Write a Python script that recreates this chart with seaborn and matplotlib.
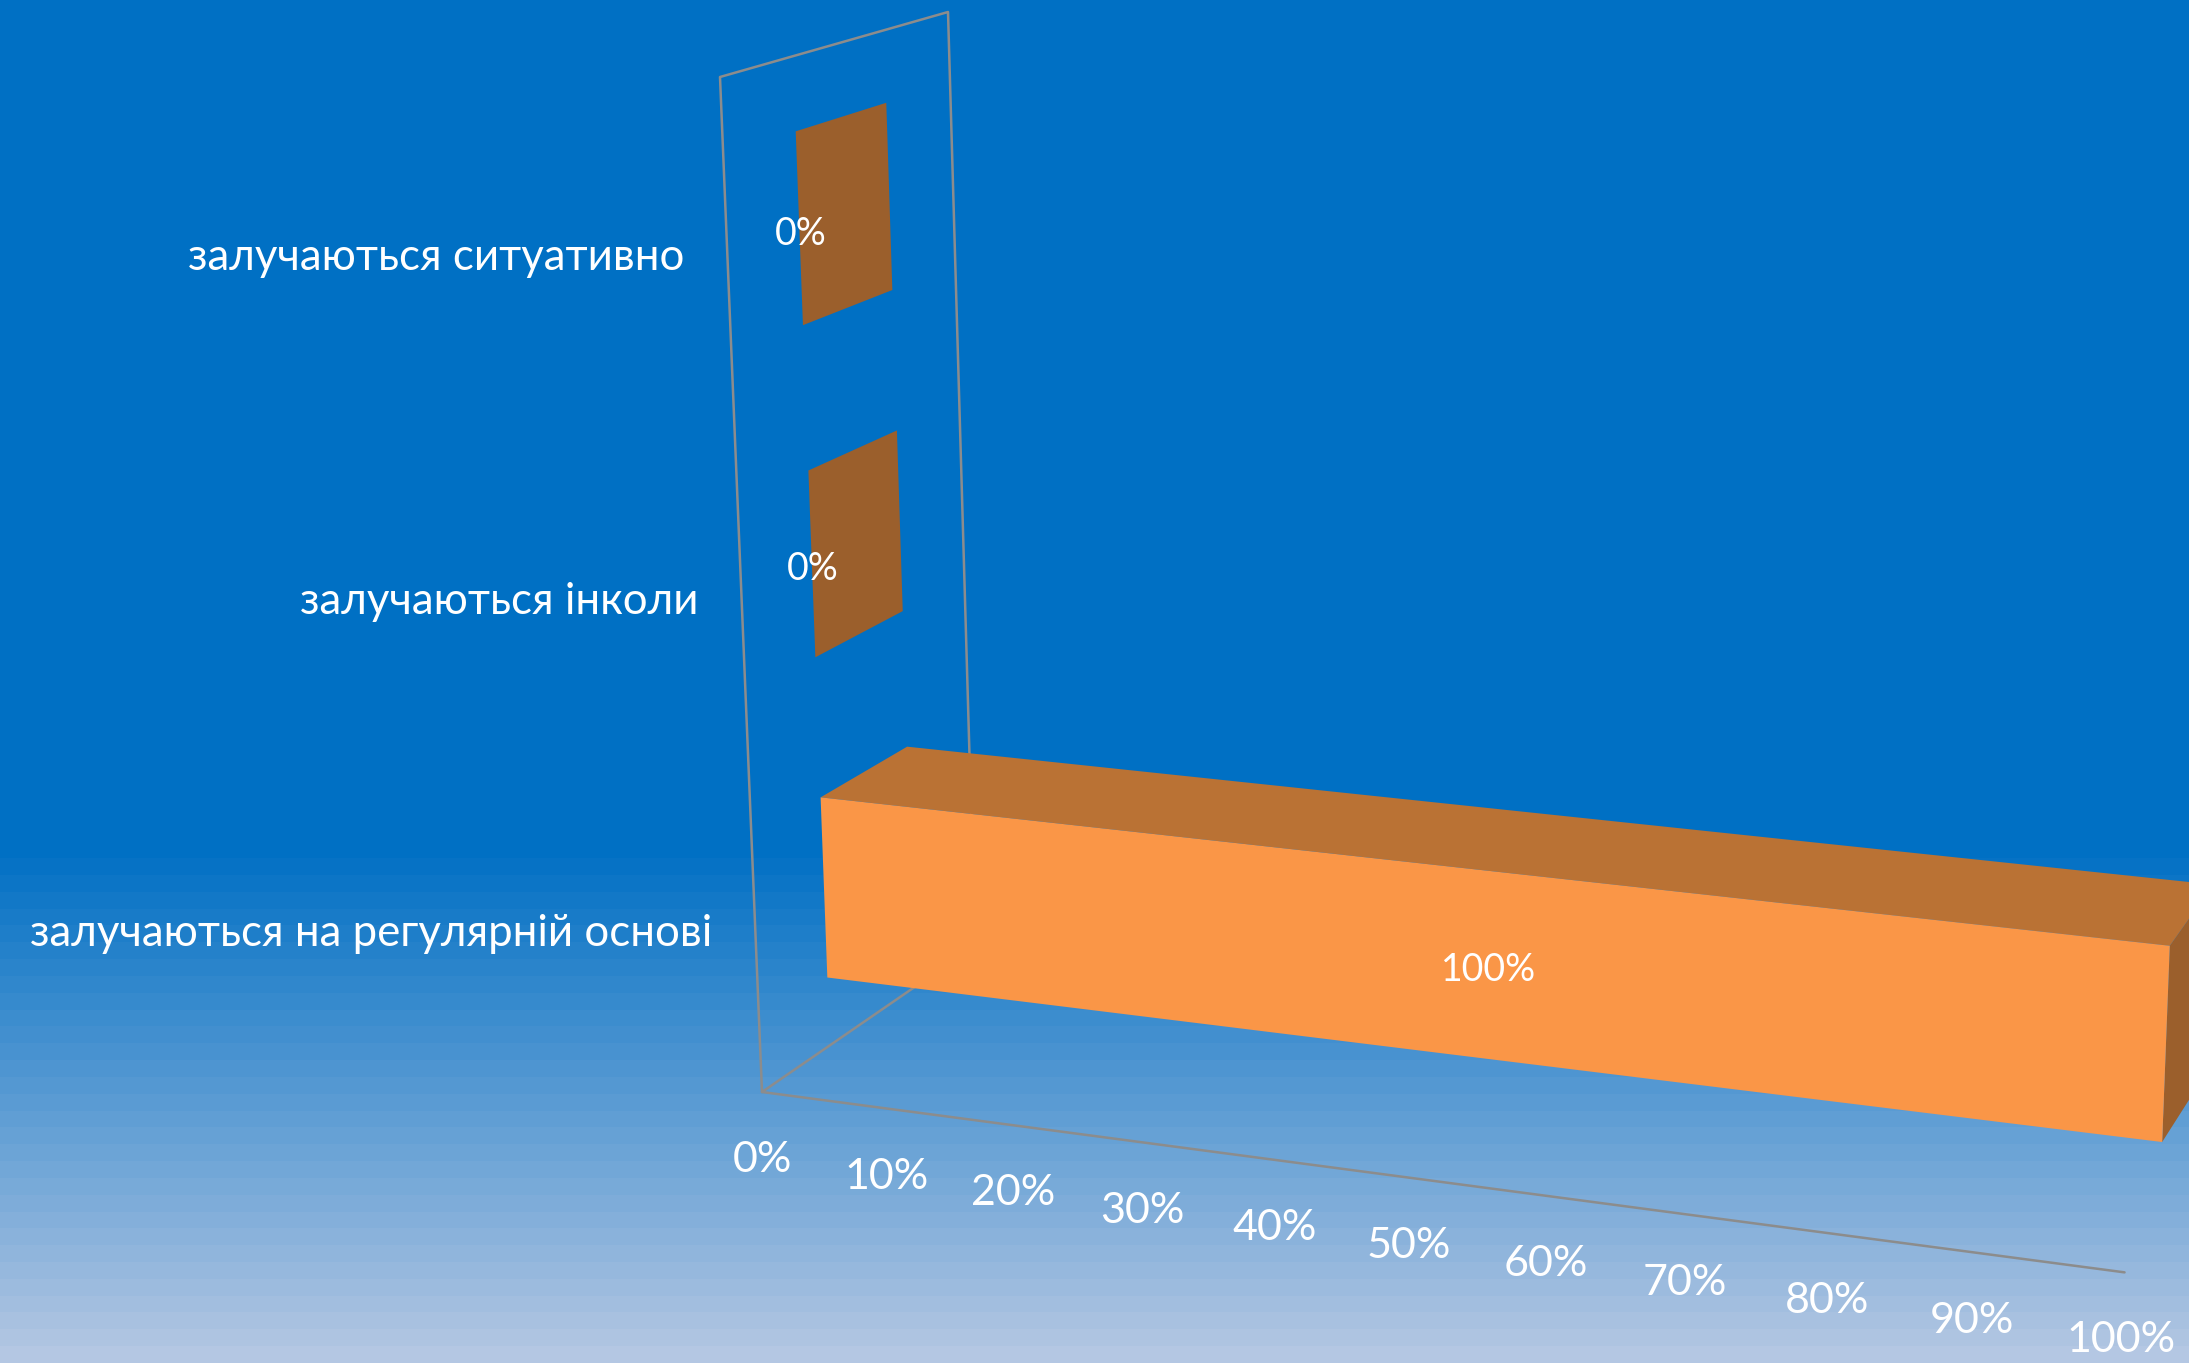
import numpy as np
import pandas as pd
import matplotlib
matplotlib.use("Agg")
import matplotlib.pyplot as plt
import seaborn as sns

categories = ["залучаються на регулярній основі", "залучаються інколи", "залучаються ситуативно"]
values = [100, 0, 0]
value_labels = ["100%", "0%", "0%"]
ticks = [0, 10, 20, 30, 40, 50, 60, 70, 80, 90, 100]
tick_labels = ["0%", "10%", "20%", "30%", "40%", "50%", "60%", "70%", "80%", "90%", "100%"]

W, H = 2189, 1363
FRONT = "#FA9647"
TOP = "#BA7234"
SIDE = "#9B5F2C"
GREY = "#8C8C8C"

sns.set_theme(style="white")
plt.rcParams["font.family"] = ["Lato", "Open Sans", "DejaVu Sans"]

# camera: wall corners on screen (depth, height) and vanishing point of the value axis
wall_src = [(0, 0), (1, 0), (1, 1), (0, 1)]
wall_dst = [(762, 1092), (975, 945.5), (948, 12), (720, 77)]
vp = np.array([-12700.0, -690.0])
k0 = 1088.0

A = []
b = []
for (d, h), (x, y) in zip(wall_src, wall_dst):
    A.append([d, h, 1, 0, 0, 0, -d * x, -h * x])
    b.append(x)
    A.append([0, 0, 0, d, h, 1, -d * y, -h * y])
    b.append(y)
hm = np.linalg.solve(np.array(A, float), np.array(b, float))


def project(v, d, h):
    w = hm[6] * d + hm[7] * h + 1
    p0 = np.array([hm[0] * d + hm[1] * h + hm[2], hm[3] * d + hm[4] * h + hm[5]]) / w
    f = 1 / (1 - v / (k0 * w))
    return vp + (p0 - vp) * f


def line(ax, pts, lw=1.8):
    df = pd.DataFrame(pts, columns=["x", "y"])
    sns.lineplot(data=df, x="x", y="y", sort=False, estimator=None, color=GREY, lw=lw, ax=ax, zorder=2)


fig = plt.figure(figsize=(W / 100, H / 100), dpi=100)
ax = fig.add_axes([0, 0, 1, 1])

# stepped background
n_bands = 30
t = np.r_[np.zeros(51), np.linspace(1 / n_bands, 1, n_bands)]
c0 = np.array([0, 112, 196]) / 255
c1 = np.array([180, 199, 227]) / 255
bg = c0 + (c1 - c0) * t[:, None]
ax.imshow(bg[:, None, :], extent=[0, W, H, 0], aspect="auto", interpolation="nearest", zorder=0)

# frame
line(ax, [project(0, 0, 0), project(0, 0, 1), project(0, 1, 1), project(0, 1, 0), project(0, 0, 0)])
line(ax, [project(0, 0, 0), project(100, 0, 0)])

# bars
d0, d1 = 0.30, 0.70
half = 0.0945
n = len(categories)
for i, (cat, val, lab) in enumerate(zip(categories, values, value_labels)):
    hc = (i + 0.5) / n
    h0, h1 = hc - half, hc + half
    side = [project(val, d0, h0), project(val, d1, h0), project(val, d1, h1), project(val, d0, h1)]
    top = [project(0, d0, h1), project(0, d1, h1), project(val, d1, h1), project(val, d0, h1)]
    front = [project(0, d0, h0), project(val, d0, h0), project(val, d0, h1), project(0, d0, h1)]
    for poly, col in [(side, SIDE), (top, TOP), (front, FRONT)]:
        ax.fill(*zip(*poly), color=col, lw=0, zorder=3)
    lx, ly = project(val * 0.518, d0, hc)
    ax.text(lx + 1, ly + 5, lab, color="white", fontsize=27, ha="center", va="center", zorder=5)
    ex, ey = project(0, 0, hc)
    ax.text(ex - 43, ey + 3, cat, color="white", fontsize=31.5, ha="right", va="center", zorder=5)

for tk, tl in zip(ticks, tick_labels):
    tx, ty = project(tk, 0, 0)
    ax.text(tx - tk * 0.04, ty + 68, tl, color="white", fontsize=31, ha="center", va="center", zorder=5)

ax.set_xlim(0, W)
ax.set_ylim(H, 0)
ax.axis("off")
fig.savefig("out.png", dpi=100)
